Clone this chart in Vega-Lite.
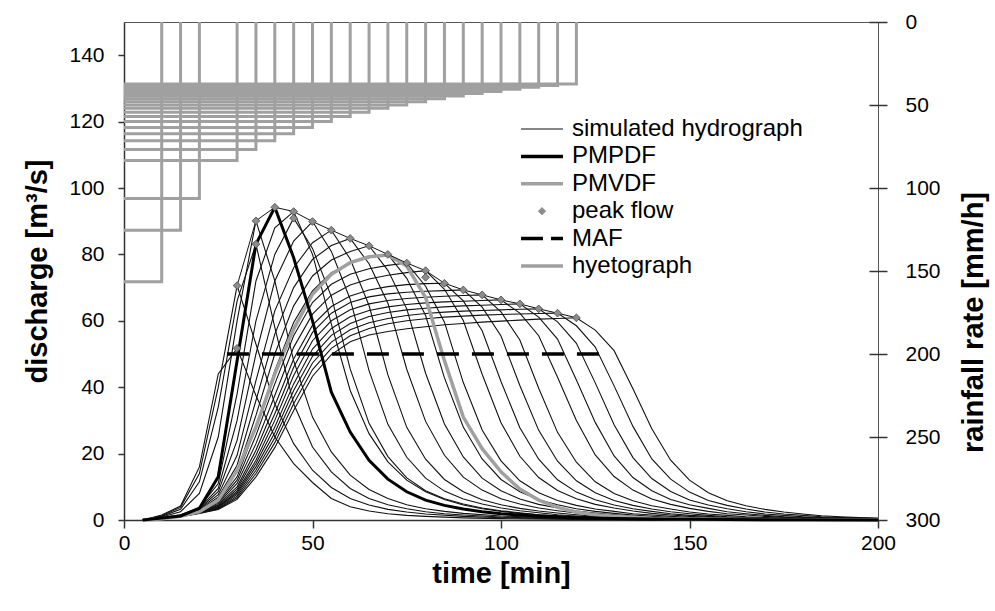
{
"$schema":"https://vega.github.io/schema/vega-lite/v6.json",
"width":754,"height":498,"autosize":"none",
"padding":{"left":124,"top":22,"right":117,"bottom":91},
"background":"white",
"config":{"view":{"stroke":"#555","strokeWidth":1},"font":"Liberation Sans",
"axis":{"labelFont":"Liberation Sans","titleFont":"Liberation Sans","labelFontSize":21,"titleFontSize":29,"titleFontWeight":"bold","labelColor":"#000","titleColor":"#000","domainColor":"#333","tickColor":"#333","domainWidth":1.5,"tickWidth":1.5,"grid":false,"labelOverlap":false,"labelBound":false},
"axisX":{"labelFlush":false},
"legend":{"labelFont":"Liberation Sans"}},
"datasets":{
"hyeto":[
{"h":10,"t":0,"r":156.5,"k":0},{"h":10,"t":10,"r":156.5,"k":1},{"h":10,"t":10,"r":0,"k":2},
{"h":15,"t":0,"r":125.5,"k":0},{"h":15,"t":15,"r":125.5,"k":1},{"h":15,"t":15,"r":0,"k":2},
{"h":20,"t":0,"r":106.3,"k":0},{"h":20,"t":20,"r":106.3,"k":1},{"h":20,"t":20,"r":0,"k":2},
{"h":30,"t":0,"r":83.5,"k":0},{"h":30,"t":30,"r":83.5,"k":1},{"h":30,"t":30,"r":0,"k":2},
{"h":35,"t":0,"r":76.8,"k":0},{"h":35,"t":35,"r":76.8,"k":1},{"h":35,"t":35,"r":0,"k":2},
{"h":40,"t":0,"r":71.5,"k":0},{"h":40,"t":40,"r":71.5,"k":1},{"h":40,"t":40,"r":0,"k":2},
{"h":45,"t":0,"r":67.3,"k":0},{"h":45,"t":45,"r":67.3,"k":1},{"h":45,"t":45,"r":0,"k":2},
{"h":50,"t":0,"r":63.5,"k":0},{"h":50,"t":50,"r":63.5,"k":1},{"h":50,"t":50,"r":0,"k":2},
{"h":55,"t":0,"r":60,"k":0},{"h":55,"t":55,"r":60,"k":1},{"h":55,"t":55,"r":0,"k":2},
{"h":60,"t":0,"r":57,"k":0},{"h":60,"t":60,"r":57,"k":1},{"h":60,"t":60,"r":0,"k":2},
{"h":65,"t":0,"r":54.3,"k":0},{"h":65,"t":65,"r":54.3,"k":1},{"h":65,"t":65,"r":0,"k":2},
{"h":70,"t":0,"r":52,"k":0},{"h":70,"t":70,"r":52,"k":1},{"h":70,"t":70,"r":0,"k":2},
{"h":75,"t":0,"r":50,"k":0},{"h":75,"t":75,"r":50,"k":1},{"h":75,"t":75,"r":0,"k":2},
{"h":80,"t":0,"r":48,"k":0},{"h":80,"t":80,"r":48,"k":1},{"h":80,"t":80,"r":0,"k":2},
{"h":85,"t":0,"r":46.2,"k":0},{"h":85,"t":85,"r":46.2,"k":1},{"h":85,"t":85,"r":0,"k":2},
{"h":90,"t":0,"r":44.6,"k":0},{"h":90,"t":90,"r":44.6,"k":1},{"h":90,"t":90,"r":0,"k":2},
{"h":95,"t":0,"r":43.1,"k":0},{"h":95,"t":95,"r":43.1,"k":1},{"h":95,"t":95,"r":0,"k":2},
{"h":100,"t":0,"r":41.8,"k":0},{"h":100,"t":100,"r":41.8,"k":1},{"h":100,"t":100,"r":0,"k":2},
{"h":105,"t":0,"r":40.5,"k":0},{"h":105,"t":105,"r":40.5,"k":1},{"h":105,"t":105,"r":0,"k":2},
{"h":110,"t":0,"r":39.3,"k":0},{"h":110,"t":110,"r":39.3,"k":1},{"h":110,"t":110,"r":0,"k":2},
{"h":115,"t":0,"r":38.3,"k":0},{"h":115,"t":115,"r":38.3,"k":1},{"h":115,"t":115,"r":0,"k":2},
{"h":120,"t":0,"r":37.3,"k":0},{"h":120,"t":120,"r":37.3,"k":1},{"h":120,"t":120,"r":0,"k":2}
],
"hyd":[
{"d":10,"t":5,"q":0},{"d":10,"t":10,"q":1.5},{"d":10,"t":15,"q":4.2},{"d":10,"t":20,"q":16},{"d":10,"t":25,"q":44},{"d":10,"t":30,"q":51.7},{"d":10,"t":35,"q":37.5},{"d":10,"t":40,"q":25},{"d":10,"t":45,"q":17},{"d":10,"t":50,"q":11.3},{"d":10,"t":55,"q":6.5},{"d":10,"t":60,"q":4},{"d":10,"t":65,"q":2.7},{"d":10,"t":70,"q":1.9},{"d":10,"t":75,"q":1.4},{"d":10,"t":80,"q":1.1},{"d":10,"t":90,"q":0.65},{"d":10,"t":100,"q":0.4},{"d":10,"t":120,"q":0.15},{"d":10,"t":150,"q":0.04},{"d":10,"t":200,"q":0},
{"d":15,"t":5,"q":0},{"d":15,"t":10,"q":1.3},{"d":15,"t":15,"q":3.8},{"d":15,"t":20,"q":14},{"d":15,"t":25,"q":40},{"d":15,"t":30,"q":70.6},{"d":15,"t":35,"q":53},{"d":15,"t":40,"q":35},{"d":15,"t":45,"q":23},{"d":15,"t":50,"q":15},{"d":15,"t":55,"q":9.8},{"d":15,"t":60,"q":6.5},{"d":15,"t":65,"q":4.5},{"d":15,"t":70,"q":3.2},{"d":15,"t":75,"q":2.4},{"d":15,"t":80,"q":1.8},{"d":15,"t":90,"q":1.1},{"d":15,"t":100,"q":0.7},{"d":15,"t":110,"q":0.45},{"d":15,"t":120,"q":0.3},{"d":15,"t":140,"q":0.12},{"d":15,"t":170,"q":0.03},{"d":15,"t":200,"q":0},
{"d":20,"t":5,"q":0},{"d":20,"t":10,"q":1.1},{"d":20,"t":15,"q":3.2},{"d":20,"t":20,"q":11.5},{"d":20,"t":25,"q":34},{"d":20,"t":30,"q":66},{"d":20,"t":35,"q":83.1},{"d":20,"t":40,"q":58},{"d":20,"t":45,"q":35},{"d":20,"t":50,"q":22},{"d":20,"t":55,"q":14.5},{"d":20,"t":60,"q":9.5},{"d":20,"t":65,"q":6.5},{"d":20,"t":70,"q":4.6},{"d":20,"t":75,"q":3.4},{"d":20,"t":80,"q":2.5},{"d":20,"t":85,"q":1.9},{"d":20,"t":90,"q":1.5},{"d":20,"t":100,"q":0.9},{"d":20,"t":110,"q":0.6},{"d":20,"t":120,"q":0.4},{"d":20,"t":140,"q":0.15},{"d":20,"t":170,"q":0.04},{"d":20,"t":200,"q":0},
{"d":30,"t":5,"q":0},{"d":30,"t":10,"q":0.9},{"d":30,"t":15,"q":2.5},{"d":30,"t":20,"q":8},{"d":30,"t":25,"q":25},{"d":30,"t":30,"q":60},{"d":30,"t":35,"q":90.1},{"d":30,"t":40,"q":72},{"d":30,"t":45,"q":48},{"d":30,"t":50,"q":31},{"d":30,"t":55,"q":20.5},{"d":30,"t":60,"q":13.5},{"d":30,"t":65,"q":9.2},{"d":30,"t":70,"q":6.5},{"d":30,"t":75,"q":4.6},{"d":30,"t":80,"q":3.4},{"d":30,"t":85,"q":2.6},{"d":30,"t":90,"q":2},{"d":30,"t":100,"q":1.2},{"d":30,"t":110,"q":0.8},{"d":30,"t":120,"q":0.5},{"d":30,"t":140,"q":0.2},{"d":30,"t":160,"q":0.08},{"d":30,"t":200,"q":0.01},
{"d":40,"t":5,"q":0},{"d":40,"t":10,"q":0.7},{"d":40,"t":15,"q":1.6},{"d":40,"t":20,"q":3.8},{"d":40,"t":25,"q":11},{"d":40,"t":30,"q":38},{"d":40,"t":35,"q":72},{"d":40,"t":40,"q":88},{"d":40,"t":45,"q":92.9},{"d":40,"t":50,"q":80},{"d":40,"t":55,"q":59},{"d":40,"t":60,"q":39},{"d":40,"t":65,"q":26},{"d":40,"t":70,"q":17.5},{"d":40,"t":75,"q":12},{"d":40,"t":80,"q":8.5},{"d":40,"t":85,"q":6.2},{"d":40,"t":90,"q":4.5},{"d":40,"t":95,"q":3.4},{"d":40,"t":100,"q":2.6},{"d":40,"t":105,"q":2},{"d":40,"t":110,"q":1.6},{"d":40,"t":120,"q":1},{"d":40,"t":130,"q":0.6},{"d":40,"t":140,"q":0.4},{"d":40,"t":160,"q":0.15},{"d":40,"t":180,"q":0.05},{"d":40,"t":200,"q":0.02},
{"d":45,"t":5,"q":0},{"d":45,"t":10,"q":0.65},{"d":45,"t":15,"q":1.5},{"d":45,"t":20,"q":3.6},{"d":45,"t":25,"q":9.5},{"d":45,"t":30,"q":30},{"d":45,"t":35,"q":60},{"d":45,"t":40,"q":80},{"d":45,"t":45,"q":90.9},{"d":45,"t":50,"q":81.8},{"d":45,"t":55,"q":67.3},{"d":45,"t":60,"q":45.5},{"d":45,"t":65,"q":29.1},{"d":45,"t":70,"q":19.1},{"d":45,"t":75,"q":12.7},{"d":45,"t":80,"q":8.8},{"d":45,"t":85,"q":6.4},{"d":45,"t":90,"q":4.8},{"d":45,"t":95,"q":3.6},{"d":45,"t":100,"q":2.8},{"d":45,"t":105,"q":2.2},{"d":45,"t":110,"q":1.6},{"d":45,"t":115,"q":1.2},{"d":45,"t":120,"q":0.9},{"d":45,"t":125,"q":0.64},{"d":45,"t":135,"q":0.35},{"d":45,"t":150,"q":0.15},{"d":45,"t":170,"q":0.05},{"d":45,"t":200,"q":0.01},
{"d":50,"t":5,"q":0},{"d":50,"t":10,"q":0.62},{"d":50,"t":15,"q":1.45},{"d":50,"t":20,"q":3.4},{"d":50,"t":25,"q":8.5},{"d":50,"t":30,"q":24},{"d":50,"t":35,"q":50},{"d":50,"t":40,"q":72},{"d":50,"t":45,"q":84},{"d":50,"t":50,"q":89.9},{"d":50,"t":55,"q":80.9},{"d":50,"t":60,"q":66.5},{"d":50,"t":65,"q":45},{"d":50,"t":70,"q":28.8},{"d":50,"t":75,"q":18.9},{"d":50,"t":80,"q":12.6},{"d":50,"t":85,"q":8.7},{"d":50,"t":90,"q":6.3},{"d":50,"t":95,"q":4.8},{"d":50,"t":100,"q":3.6},{"d":50,"t":105,"q":2.8},{"d":50,"t":110,"q":2.2},{"d":50,"t":115,"q":1.6},{"d":50,"t":120,"q":1.2},{"d":50,"t":125,"q":0.9},{"d":50,"t":130,"q":0.63},{"d":50,"t":140,"q":0.35},{"d":50,"t":155,"q":0.15},{"d":50,"t":175,"q":0.05},{"d":50,"t":200,"q":0.01},
{"d":55,"t":5,"q":0},{"d":55,"t":10,"q":0.6},{"d":55,"t":15,"q":1.4},{"d":55,"t":20,"q":3.2},{"d":55,"t":25,"q":7.6},{"d":55,"t":30,"q":19.5},{"d":55,"t":35,"q":42},{"d":55,"t":40,"q":63},{"d":55,"t":45,"q":76},{"d":55,"t":50,"q":83.5},{"d":55,"t":55,"q":87.3},{"d":55,"t":60,"q":78.6},{"d":55,"t":65,"q":64.6},{"d":55,"t":70,"q":43.7},{"d":55,"t":75,"q":27.9},{"d":55,"t":80,"q":18.3},{"d":55,"t":85,"q":12.2},{"d":55,"t":90,"q":8.5},{"d":55,"t":95,"q":6.1},{"d":55,"t":100,"q":4.6},{"d":55,"t":105,"q":3.5},{"d":55,"t":110,"q":2.7},{"d":55,"t":115,"q":2.1},{"d":55,"t":120,"q":1.6},{"d":55,"t":125,"q":1.1},{"d":55,"t":130,"q":0.87},{"d":55,"t":135,"q":0.61},{"d":55,"t":145,"q":0.33},{"d":55,"t":160,"q":0.15},{"d":55,"t":180,"q":0.05},{"d":55,"t":200,"q":0.02},
{"d":60,"t":5,"q":0},{"d":60,"t":10,"q":0.58},{"d":60,"t":15,"q":1.35},{"d":60,"t":20,"q":3.0},{"d":60,"t":25,"q":6.9},{"d":60,"t":30,"q":16.5},{"d":60,"t":35,"q":36},{"d":60,"t":40,"q":56},{"d":60,"t":45,"q":70},{"d":60,"t":50,"q":78.5},{"d":60,"t":55,"q":82.7},{"d":60,"t":60,"q":84.8},{"d":60,"t":65,"q":77.2},{"d":60,"t":70,"q":65.3},{"d":60,"t":75,"q":45.4},{"d":60,"t":80,"q":29.7},{"d":60,"t":85,"q":19.5},{"d":60,"t":90,"q":12.9},{"d":60,"t":95,"q":9.0},{"d":60,"t":100,"q":6.4},{"d":60,"t":105,"q":4.8},{"d":60,"t":110,"q":3.6},{"d":60,"t":115,"q":2.8},{"d":60,"t":120,"q":2.1},{"d":60,"t":125,"q":1.6},{"d":60,"t":130,"q":1.2},{"d":60,"t":135,"q":0.85},{"d":60,"t":140,"q":0.6},{"d":60,"t":150,"q":0.33},{"d":60,"t":165,"q":0.15},{"d":60,"t":185,"q":0.05},{"d":60,"t":200,"q":0.02},
{"d":65,"t":5,"q":0},{"d":65,"t":10,"q":0.56},{"d":65,"t":15,"q":1.3},{"d":65,"t":20,"q":2.9},{"d":65,"t":25,"q":6.3},{"d":65,"t":30,"q":14.5},{"d":65,"t":35,"q":31.5},{"d":65,"t":40,"q":50},{"d":65,"t":45,"q":64.5},{"d":65,"t":50,"q":73.5},{"d":65,"t":55,"q":78.3},{"d":65,"t":60,"q":80.9},{"d":65,"t":65,"q":82.6},{"d":65,"t":70,"q":75.2},{"d":65,"t":75,"q":63.6},{"d":65,"t":80,"q":44.2},{"d":65,"t":85,"q":28.9},{"d":65,"t":90,"q":19},{"d":65,"t":95,"q":12.6},{"d":65,"t":100,"q":8.8},{"d":65,"t":105,"q":6.3},{"d":65,"t":110,"q":4.7},{"d":65,"t":115,"q":3.6},{"d":65,"t":120,"q":2.7},{"d":65,"t":125,"q":2.1},{"d":65,"t":130,"q":1.6},{"d":65,"t":135,"q":1.2},{"d":65,"t":140,"q":0.83},{"d":65,"t":145,"q":0.58},{"d":65,"t":155,"q":0.32},{"d":65,"t":170,"q":0.15},{"d":65,"t":190,"q":0.05},{"d":65,"t":200,"q":0.03},
{"d":70,"t":5,"q":0},{"d":70,"t":10,"q":0.54},{"d":70,"t":15,"q":1.25},{"d":70,"t":20,"q":2.8},{"d":70,"t":25,"q":5.8},{"d":70,"t":30,"q":13},{"d":70,"t":35,"q":28},{"d":70,"t":40,"q":45},{"d":70,"t":45,"q":59.5},{"d":70,"t":50,"q":69},{"d":70,"t":55,"q":74.5},{"d":70,"t":60,"q":77.4},{"d":70,"t":65,"q":79},{"d":70,"t":70,"q":80},{"d":70,"t":75,"q":72.8},{"d":70,"t":80,"q":61.6},{"d":70,"t":85,"q":42.8},{"d":70,"t":90,"q":28},{"d":70,"t":95,"q":18.4},{"d":70,"t":100,"q":12.2},{"d":70,"t":105,"q":8.5},{"d":70,"t":110,"q":6.1},{"d":70,"t":115,"q":4.6},{"d":70,"t":120,"q":3.4},{"d":70,"t":125,"q":2.6},{"d":70,"t":130,"q":2.0},{"d":70,"t":135,"q":1.5},{"d":70,"t":140,"q":1.1},{"d":70,"t":145,"q":0.8},{"d":70,"t":150,"q":0.56},{"d":70,"t":160,"q":0.31},{"d":70,"t":175,"q":0.14},{"d":70,"t":200,"q":0.04},
{"d":75,"t":5,"q":0},{"d":75,"t":10,"q":0.52},{"d":75,"t":15,"q":1.2},{"d":75,"t":20,"q":2.7},{"d":75,"t":25,"q":5.4},{"d":75,"t":30,"q":12},{"d":75,"t":35,"q":25.5},{"d":75,"t":40,"q":41},{"d":75,"t":45,"q":55.5},{"d":75,"t":50,"q":65.5},{"d":75,"t":55,"q":71},{"d":75,"t":60,"q":74},{"d":75,"t":65,"q":75.7},{"d":75,"t":70,"q":76.7},{"d":75,"t":75,"q":77.4},{"d":75,"t":80,"q":70.4},{"d":75,"t":85,"q":59.6},{"d":75,"t":90,"q":41.4},{"d":75,"t":95,"q":27.1},{"d":75,"t":100,"q":17.8},{"d":75,"t":105,"q":11.8},{"d":75,"t":110,"q":8.2},{"d":75,"t":115,"q":5.9},{"d":75,"t":120,"q":4.4},{"d":75,"t":125,"q":3.3},{"d":75,"t":130,"q":2.6},{"d":75,"t":135,"q":1.9},{"d":75,"t":140,"q":1.5},{"d":75,"t":145,"q":1.1},{"d":75,"t":150,"q":0.77},{"d":75,"t":155,"q":0.54},{"d":75,"t":165,"q":0.3},{"d":75,"t":180,"q":0.14},{"d":75,"t":200,"q":0.05},
{"d":80,"t":5,"q":0},{"d":80,"t":10,"q":0.5},{"d":80,"t":15,"q":1.18},{"d":80,"t":20,"q":2.6},{"d":80,"t":25,"q":5.0},{"d":80,"t":30,"q":11},{"d":80,"t":35,"q":23},{"d":80,"t":40,"q":37.5},{"d":80,"t":45,"q":52},{"d":80,"t":50,"q":62},{"d":80,"t":55,"q":67.7},{"d":80,"t":60,"q":70.8},{"d":80,"t":65,"q":72.6},{"d":80,"t":70,"q":73.7},{"d":80,"t":75,"q":74.5},{"d":80,"t":80,"q":75.1},{"d":80,"t":85,"q":69.5},{"d":80,"t":90,"q":60.1},{"d":80,"t":95,"q":43.9},{"d":80,"t":100,"q":29.3},{"d":80,"t":105,"q":19.2},{"d":80,"t":110,"q":12.8},{"d":80,"t":115,"q":8.9},{"d":80,"t":120,"q":6.4},{"d":80,"t":125,"q":4.7},{"d":80,"t":130,"q":3.6},{"d":80,"t":135,"q":2.7},{"d":80,"t":140,"q":2.0},{"d":80,"t":145,"q":1.5},{"d":80,"t":150,"q":1.1},{"d":80,"t":155,"q":0.83},{"d":80,"t":160,"q":0.6},{"d":80,"t":170,"q":0.33},{"d":80,"t":185,"q":0.15},{"d":80,"t":200,"q":0.07},
{"d":85,"t":5,"q":0},{"d":85,"t":10,"q":0.49},{"d":85,"t":15,"q":1.15},{"d":85,"t":20,"q":2.5},{"d":85,"t":25,"q":4.7},{"d":85,"t":30,"q":10},{"d":85,"t":35,"q":21},{"d":85,"t":40,"q":34.5},{"d":85,"t":45,"q":48.5},{"d":85,"t":50,"q":58.7},{"d":85,"t":55,"q":64.3},{"d":85,"t":60,"q":67.5},{"d":85,"t":65,"q":69.3},{"d":85,"t":70,"q":70.3},{"d":85,"t":75,"q":70.9},{"d":85,"t":80,"q":71.2},{"d":85,"t":85,"q":71.3},{"d":85,"t":90,"q":66},{"d":85,"t":95,"q":57},{"d":85,"t":100,"q":41.7},{"d":85,"t":105,"q":27.8},{"d":85,"t":110,"q":18.3},{"d":85,"t":115,"q":12.1},{"d":85,"t":120,"q":8.4},{"d":85,"t":125,"q":6.1},{"d":85,"t":130,"q":4.5},{"d":85,"t":135,"q":3.4},{"d":85,"t":140,"q":2.6},{"d":85,"t":145,"q":1.9},{"d":85,"t":150,"q":1.4},{"d":85,"t":155,"q":1.1},{"d":85,"t":160,"q":0.78},{"d":85,"t":165,"q":0.57},{"d":85,"t":175,"q":0.32},{"d":85,"t":190,"q":0.15},{"d":85,"t":200,"q":0.1},
{"d":90,"t":5,"q":0},{"d":90,"t":10,"q":0.48},{"d":90,"t":15,"q":1.12},{"d":90,"t":20,"q":2.4},{"d":90,"t":25,"q":4.4},{"d":90,"t":30,"q":9.3},{"d":90,"t":35,"q":19.5},{"d":90,"t":40,"q":32},{"d":90,"t":45,"q":46},{"d":90,"t":50,"q":56.5},{"d":90,"t":55,"q":62.3},{"d":90,"t":60,"q":65.5},{"d":90,"t":65,"q":67.2},{"d":90,"t":70,"q":68.1},{"d":90,"t":75,"q":68.6},{"d":90,"t":80,"q":68.9},{"d":90,"t":85,"q":69.1},{"d":90,"t":90,"q":69.3},{"d":90,"t":95,"q":64.1},{"d":90,"t":100,"q":55.4},{"d":90,"t":105,"q":40.5},{"d":90,"t":110,"q":27},{"d":90,"t":115,"q":17.7},{"d":90,"t":120,"q":11.8},{"d":90,"t":125,"q":8.2},{"d":90,"t":130,"q":5.9},{"d":90,"t":135,"q":4.4},{"d":90,"t":140,"q":3.3},{"d":90,"t":145,"q":2.5},{"d":90,"t":150,"q":1.9},{"d":90,"t":155,"q":1.4},{"d":90,"t":160,"q":1.0},{"d":90,"t":165,"q":0.76},{"d":90,"t":170,"q":0.55},{"d":90,"t":180,"q":0.32},{"d":90,"t":190,"q":0.2},{"d":90,"t":200,"q":0.13},
{"d":95,"t":5,"q":0},{"d":95,"t":10,"q":0.47},{"d":95,"t":15,"q":1.1},{"d":95,"t":20,"q":2.3},{"d":95,"t":25,"q":4.1},{"d":95,"t":30,"q":8.7},{"d":95,"t":35,"q":18},{"d":95,"t":40,"q":30},{"d":95,"t":45,"q":43.5},{"d":95,"t":50,"q":54},{"d":95,"t":55,"q":60},{"d":95,"t":60,"q":63.3},{"d":95,"t":65,"q":65.1},{"d":95,"t":70,"q":66.1},{"d":95,"t":75,"q":66.7},{"d":95,"t":80,"q":67.1},{"d":95,"t":85,"q":67.4},{"d":95,"t":90,"q":67.6},{"d":95,"t":95,"q":67.8},{"d":95,"t":100,"q":62.7},{"d":95,"t":105,"q":54.2},{"d":95,"t":110,"q":39.7},{"d":95,"t":115,"q":26.4},{"d":95,"t":120,"q":17.4},{"d":95,"t":125,"q":11.5},{"d":95,"t":130,"q":8.0},{"d":95,"t":135,"q":5.8},{"d":95,"t":140,"q":4.3},{"d":95,"t":145,"q":3.3},{"d":95,"t":150,"q":2.4},{"d":95,"t":155,"q":1.8},{"d":95,"t":160,"q":1.4},{"d":95,"t":165,"q":1.0},{"d":95,"t":170,"q":0.75},{"d":95,"t":175,"q":0.54},{"d":95,"t":185,"q":0.32},{"d":95,"t":200,"q":0.16},
{"d":100,"t":5,"q":0},{"d":100,"t":10,"q":0.46},{"d":100,"t":15,"q":1.08},{"d":100,"t":20,"q":2.25},{"d":100,"t":25,"q":3.9},{"d":100,"t":30,"q":8.2},{"d":100,"t":35,"q":17},{"d":100,"t":40,"q":28},{"d":100,"t":45,"q":41},{"d":100,"t":50,"q":51.5},{"d":100,"t":55,"q":57.7},{"d":100,"t":60,"q":61.2},{"d":100,"t":65,"q":63.1},{"d":100,"t":70,"q":64.2},{"d":100,"t":75,"q":64.9},{"d":100,"t":80,"q":65.4},{"d":100,"t":85,"q":65.7},{"d":100,"t":90,"q":65.9},{"d":100,"t":95,"q":66.1},{"d":100,"t":100,"q":66.3},{"d":100,"t":105,"q":62.3},{"d":100,"t":110,"q":55.5},{"d":100,"t":115,"q":43},{"d":100,"t":120,"q":30},{"d":100,"t":125,"q":19.6},{"d":100,"t":130,"q":13.1},{"d":100,"t":135,"q":9.0},{"d":100,"t":140,"q":6.3},{"d":100,"t":145,"q":4.7},{"d":100,"t":150,"q":3.5},{"d":100,"t":155,"q":2.6},{"d":100,"t":160,"q":1.9},{"d":100,"t":165,"q":1.5},{"d":100,"t":170,"q":1.1},{"d":100,"t":175,"q":0.8},{"d":100,"t":180,"q":0.6},{"d":100,"t":190,"q":0.35},{"d":100,"t":200,"q":0.2},
{"d":105,"t":5,"q":0},{"d":105,"t":10,"q":0.45},{"d":105,"t":15,"q":1.05},{"d":105,"t":20,"q":2.2},{"d":105,"t":25,"q":3.7},{"d":105,"t":30,"q":7.7},{"d":105,"t":35,"q":16},{"d":105,"t":40,"q":26.3},{"d":105,"t":45,"q":39},{"d":105,"t":50,"q":49.3},{"d":105,"t":55,"q":55.6},{"d":105,"t":60,"q":59.2},{"d":105,"t":65,"q":61.3},{"d":105,"t":70,"q":62.5},{"d":105,"t":75,"q":63.3},{"d":105,"t":80,"q":63.8},{"d":105,"t":85,"q":64.2},{"d":105,"t":90,"q":64.5},{"d":105,"t":95,"q":64.7},{"d":105,"t":100,"q":64.9},{"d":105,"t":105,"q":65.1},{"d":105,"t":110,"q":61.1},{"d":105,"t":115,"q":54.5},{"d":105,"t":120,"q":42.2},{"d":105,"t":125,"q":29.4},{"d":105,"t":130,"q":19.3},{"d":105,"t":135,"q":12.8},{"d":105,"t":140,"q":8.8},{"d":105,"t":145,"q":6.2},{"d":105,"t":150,"q":4.6},{"d":105,"t":155,"q":3.5},{"d":105,"t":160,"q":2.5},{"d":105,"t":165,"q":1.9},{"d":105,"t":170,"q":1.4},{"d":105,"t":175,"q":1.0},{"d":105,"t":180,"q":0.78},{"d":105,"t":185,"q":0.59},{"d":105,"t":195,"q":0.35},{"d":105,"t":200,"q":0.28},
{"d":110,"t":5,"q":0},{"d":110,"t":10,"q":0.44},{"d":110,"t":15,"q":1.03},{"d":110,"t":20,"q":2.1},{"d":110,"t":25,"q":3.5},{"d":110,"t":30,"q":7.2},{"d":110,"t":35,"q":15},{"d":110,"t":40,"q":24.8},{"d":110,"t":45,"q":37},{"d":110,"t":50,"q":47.3},{"d":110,"t":55,"q":53.6},{"d":110,"t":60,"q":57.3},{"d":110,"t":65,"q":59.4},{"d":110,"t":70,"q":60.7},{"d":110,"t":75,"q":61.6},{"d":110,"t":80,"q":62.2},{"d":110,"t":85,"q":62.6},{"d":110,"t":90,"q":62.9},{"d":110,"t":95,"q":63.1},{"d":110,"t":100,"q":63.3},{"d":110,"t":105,"q":63.5},{"d":110,"t":110,"q":63.6},{"d":110,"t":115,"q":59.7},{"d":110,"t":120,"q":53.2},{"d":110,"t":125,"q":41.3},{"d":110,"t":130,"q":28.7},{"d":110,"t":135,"q":18.8},{"d":110,"t":140,"q":12.5},{"d":110,"t":145,"q":8.6},{"d":110,"t":150,"q":6.0},{"d":110,"t":155,"q":4.5},{"d":110,"t":160,"q":3.4},{"d":110,"t":165,"q":2.5},{"d":110,"t":170,"q":1.8},{"d":110,"t":175,"q":1.4},{"d":110,"t":180,"q":1.0},{"d":110,"t":185,"q":0.76},{"d":110,"t":190,"q":0.57},{"d":110,"t":200,"q":0.36},
{"d":115,"t":5,"q":0},{"d":115,"t":10,"q":0.43},{"d":115,"t":15,"q":1.01},{"d":115,"t":20,"q":2.05},{"d":115,"t":25,"q":3.35},{"d":115,"t":30,"q":6.7},{"d":115,"t":35,"q":14},{"d":115,"t":40,"q":23.3},{"d":115,"t":45,"q":35},{"d":115,"t":50,"q":45.3},{"d":115,"t":55,"q":51.7},{"d":115,"t":60,"q":55.5},{"d":115,"t":65,"q":57.7},{"d":115,"t":70,"q":59.1},{"d":115,"t":75,"q":60},{"d":115,"t":80,"q":60.6},{"d":115,"t":85,"q":61.1},{"d":115,"t":90,"q":61.4},{"d":115,"t":95,"q":61.7},{"d":115,"t":100,"q":61.9},{"d":115,"t":105,"q":62.05},{"d":115,"t":110,"q":62.2},{"d":115,"t":115,"q":62.3},{"d":115,"t":120,"q":58.5},{"d":115,"t":125,"q":52.1},{"d":115,"t":130,"q":40.4},{"d":115,"t":135,"q":28.2},{"d":115,"t":140,"q":18.4},{"d":115,"t":145,"q":12.3},{"d":115,"t":150,"q":8.4},{"d":115,"t":155,"q":5.9},{"d":115,"t":160,"q":4.4},{"d":115,"t":165,"q":3.3},{"d":115,"t":170,"q":2.4},{"d":115,"t":175,"q":1.8},{"d":115,"t":180,"q":1.4},{"d":115,"t":185,"q":1.0},{"d":115,"t":190,"q":0.75},{"d":115,"t":195,"q":0.56},{"d":115,"t":200,"q":0.45},
{"d":120,"t":5,"q":0},{"d":120,"t":10,"q":0.42},{"d":120,"t":15,"q":1.0},{"d":120,"t":20,"q":2.0},{"d":120,"t":25,"q":3.2},{"d":120,"t":30,"q":6.2},{"d":120,"t":35,"q":13},{"d":120,"t":40,"q":21.8},{"d":120,"t":45,"q":33},{"d":120,"t":50,"q":43.3},{"d":120,"t":55,"q":49.8},{"d":120,"t":60,"q":53.7},{"d":120,"t":65,"q":55.7},{"d":120,"t":70,"q":56.8},{"d":120,"t":75,"q":57.6},{"d":120,"t":80,"q":58.2},{"d":120,"t":85,"q":58.8},{"d":120,"t":90,"q":59.2},{"d":120,"t":95,"q":59.6},{"d":120,"t":100,"q":59.9},{"d":120,"t":105,"q":60.2},{"d":120,"t":110,"q":60.5},{"d":120,"t":115,"q":60.7},{"d":120,"t":120,"q":60.9},{"d":120,"t":125,"q":57.2},{"d":120,"t":130,"q":51},{"d":120,"t":135,"q":39.5},{"d":120,"t":140,"q":27.5},{"d":120,"t":145,"q":18},{"d":120,"t":150,"q":12},{"d":120,"t":155,"q":8.2},{"d":120,"t":160,"q":5.8},{"d":120,"t":165,"q":4.3},{"d":120,"t":170,"q":3.2},{"d":120,"t":175,"q":2.4},{"d":120,"t":180,"q":1.8},{"d":120,"t":185,"q":1.3},{"d":120,"t":190,"q":1.0},{"d":120,"t":195,"q":0.73},{"d":120,"t":200,"q":0.55}
],
"pmpdf":[{"t":5,"q":0},{"t":10,"q":0.6},{"t":15,"q":1.2},{"t":20,"q":3.5},{"t":25,"q":13},{"t":30,"q":48},{"t":35,"q":83.1},{"t":40,"q":94.2},{"t":45,"q":79},{"t":50,"q":60},{"t":55,"q":38.5},{"t":60,"q":26.5},{"t":65,"q":18},{"t":70,"q":12.3},{"t":75,"q":8.5},{"t":80,"q":6},{"t":85,"q":4.4},{"t":90,"q":3.3},{"t":95,"q":2.5},{"t":100,"q":1.9},{"t":110,"q":1.15},{"t":120,"q":0.7},{"t":130,"q":0.45},{"t":140,"q":0.3},{"t":160,"q":0.12},{"t":180,"q":0.05},{"t":200,"q":0.02}],
"pmvdf":[{"t":5,"q":0},{"t":10,"q":0.4},{"t":15,"q":1.1},{"t":20,"q":2.5},{"t":25,"q":6},{"t":30,"q":15},{"t":35,"q":28},{"t":40,"q":44},{"t":45,"q":57.5},{"t":50,"q":68},{"t":55,"q":74},{"t":60,"q":77.5},{"t":65,"q":79.3},{"t":70,"q":79.8},{"t":75,"q":76.5},{"t":80,"q":67},{"t":85,"q":48},{"t":90,"q":31},{"t":95,"q":21.5},{"t":100,"q":14.5},{"t":105,"q":9.3},{"t":110,"q":6},{"t":115,"q":3.8},{"t":120,"q":2.4},{"t":125,"q":1.6},{"t":130,"q":1.1},{"t":140,"q":0.55},{"t":150,"q":0.28},{"t":165,"q":0.12},{"t":185,"q":0.04},{"t":200,"q":0.02}],
"maf":[{"t":27.3,"q":50},{"t":127,"q":50}],
"peaks":[{"t":30,"q":51.7,"e":0},{"t":30,"q":70.6,"e":1},{"t":35,"q":83.1,"e":0},{"t":35,"q":90.1,"e":1},{"t":40,"q":94.2,"e":1},{"t":45,"q":92.9,"e":1},{"t":45,"q":90.9,"e":0},{"t":50,"q":89.9,"e":1},{"t":55,"q":87.3,"e":1},{"t":60,"q":84.8,"e":1},{"t":65,"q":82.6,"e":1},{"t":70,"q":80.0,"e":1},{"t":75,"q":77.4,"e":1},{"t":80,"q":75.1,"e":1},{"t":80,"q":73.1,"e":0},{"t":85,"q":71.3,"e":1},{"t":90,"q":69.3,"e":1},{"t":95,"q":67.8,"e":1},{"t":100,"q":66.3,"e":1},{"t":105,"q":65.1,"e":1},{"t":110,"q":63.6,"e":1},{"t":115,"q":62.3,"e":1},{"t":120,"q":60.9,"e":1}]
},
"encoding":{"x":{"field":"t","type":"quantitative","scale":{"domain":[0,200],"nice":false},"axis":{"values":[0,50,100,150,200],"tickSize":8,"labelPadding":4,"title":"time [min]","titlePadding":6}}},
"layer":[
{"data":{"name":"hyeto"},"mark":{"type":"line","color":"#a0a0a0","strokeWidth":3,"strokeJoin":"miter","strokeCap":"square","clip":true},
"encoding":{"y":{"field":"r","type":"quantitative","scale":{"domain":[0,300],"reverse":true,"nice":false},"axis":{"orient":"right","values":[0,50,100,150,200,250,300],"offset":-9,"tickSize":18,"domain":false,"labelPadding":18,"title":"rainfall rate [mm/h]","titleAngle":270,"titlePadding":48,"titleY":300}},"detail":{"field":"h"},"order":{"field":"k"}}},
{"encoding":{"y":{"field":"q","type":"quantitative","scale":{"domain":[0,150],"nice":false},"axis":{"values":[0,20,40,60,80,100,120,140],"tickSize":6,"labelPadding":14,"title":"discharge [m³/s]","titlePadding":16}}},
"layer":[
{"data":{"name":"hyd"},"mark":{"type":"line","strokeWidth":1.1},"encoding":{"detail":{"field":"d"},
"color":{"datum":"simulated hydrograph","type":"nominal","scale":{"domain":["simulated hydrograph","PMPDF","PMVDF","peak flow","MAF","hyetograph"],"range":["#111111","#000000","#a0a0a0","#8c8c8c","#000000","#a0a0a0"]},
"legend":{"title":null,"orient":"none","legendX":391,"legendY":95,"padding":0,"labelFontSize":24,"labelLimit":0,"labelColor":"#000","rowPadding":3.4,"symbolSize":100,"symbolStrokeWidth":1.5,"symbolOffset":15,"labelOffset":18,
"encode":{"symbols":{"update":{
"shape":{"signal":"datum.value === 'peak flow' ? 'M0,-0.75L0.75,0L0,0.75L-0.75,0Z' : 'M-4.2,0L4.2,0'"},
"size":{"value":100},
"stroke":{"signal":"(datum.value === 'PMVDF' || datum.value === 'hyetograph') ? '#a0a0a0' : (datum.value === 'peak flow' ? '#444444' : '#000000')"},
"fill":{"signal":"datum.value === 'peak flow' ? '#8c8c8c' : 'transparent'"},
"strokeWidth":{"signal":"datum.value === 'simulated hydrograph' ? 1.2 : (datum.value === 'peak flow' ? 0.8 : 3.5)"},
"strokeDash":{"signal":"datum.value === 'MAF' ? [22, 8] : [1, 0]"},
"opacity":{"value":1}}}}}}}},
{"data":{"name":"pmvdf"},"mark":{"type":"line","color":"#a0a0a0","strokeWidth":3.5},"encoding":{}},
{"data":{"name":"pmpdf"},"mark":{"type":"line","color":"#000000","strokeWidth":3},"encoding":{}},
{"data":{"name":"maf"},"mark":{"type":"line","color":"#000000","strokeWidth":3.5,"strokeDash":[22,13],"strokeCap":"butt"},"encoding":{}},
{"data":{"name":"peaks"},"transform":[{"filter":"datum.e == 1"}],"mark":{"type":"line","color":"#111111","strokeWidth":1},"encoding":{}},
{"data":{"name":"peaks"},"mark":{"type":"point","shape":"diamond","filled":true,"fill":"#8c8c8c","stroke":"#444444","strokeWidth":0.8,"size":60,"opacity":1},"encoding":{}}
]}
],
"resolve":{"scale":{"y":"independent"}}
}
